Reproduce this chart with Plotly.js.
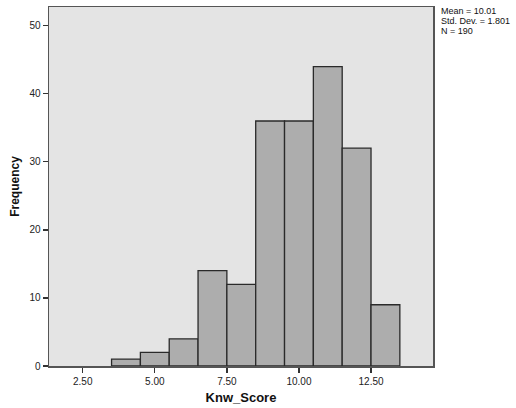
<!DOCTYPE html>
<html>
<head>
<meta charset="utf-8">
<script src="https://cdn.plot.ly/plotly-3.0.1.min.js"></script>
<style>html,body{margin:0;padding:0;background:#fff;}#chart{width:516px;height:408px;}</style>
</head>
<body>
<div id="chart"></div>
<script>
const binCenters = [4, 5, 6, 7, 8, 9, 10, 11, 12, 13];
const frequencies = [1, 2, 4, 14, 12, 36, 36, 44, 32, 9];
const xTickVals = [2.5, 5, 7.5, 10, 12.5];
const xTickText = ["2.50", "5.00", "7.50", "10.00", "12.50"];
const yTickVals = [0, 10, 20, 30, 40, 50];
const statsLines = ["Mean = 10.01", "Std. Dev. = 1.801", "N = 190"];

const trace = {
  type: 'bar',
  x: binCenters,
  y: frequencies,
  width: binCenters.map(() => 1),
  marker: {color: '#adadad', line: {color: '#2a2a2a', width: 1.3}},
  hoverinfo: 'skip'
};

const fam = 'Arial, Liberation Sans, sans-serif';

const layout = {
  width: 516, height: 408,
  margin: {l: 49, r: 83, t: 7, b: 42},
  paper_bgcolor: '#ffffff',
  plot_bgcolor: '#e4e4e4',
  showlegend: false,
  bargap: 0,
  font: {family: fam, color: '#222', size: 10},
  xaxis: {
    range: [1.33, 14.65],
    tickvals: xTickVals, ticktext: xTickText,
    ticks: 'outside', ticklen: 5, tickwidth: 1.3, tickcolor: '#333',
    showgrid: false, zeroline: false,
    showline: true, linecolor: '#555', linewidth: 1.5, mirror: true,
    tickfont: {size: 10, color: '#222'},
    title: {text: 'Knw_Score', font: {size: 13, color: '#111', family: fam, weight: 'bold'}, standoff: 7}
  },
  yaxis: {
    range: [0, 52.75],
    tickvals: yTickVals,
    ticks: 'outside', ticklen: 5, tickwidth: 1.3, tickcolor: '#333',
    showgrid: false, zeroline: false,
    showline: true, linecolor: '#555', linewidth: 1.5, mirror: true,
    tickfont: {size: 10, color: '#222'},
    title: {text: 'Frequency', font: {size: 12, color: '#111', family: fam, weight: 'bold'}, standoff: 7}
  },
  annotations: statsLines.map((t, i) => ({
    xref: 'paper', yref: 'paper', x: 1, y: 1,
    xanchor: 'left', yanchor: 'middle', xshift: 6, yshift: -4 - 10 * i,
    align: 'left', showarrow: false,
    text: t,
    font: {size: 9, color: '#111', family: fam}
  }))
};

Plotly.newPlot('chart', [trace], layout, {staticPlot: true, displayModeBar: false});
</script>
</body>
</html>
